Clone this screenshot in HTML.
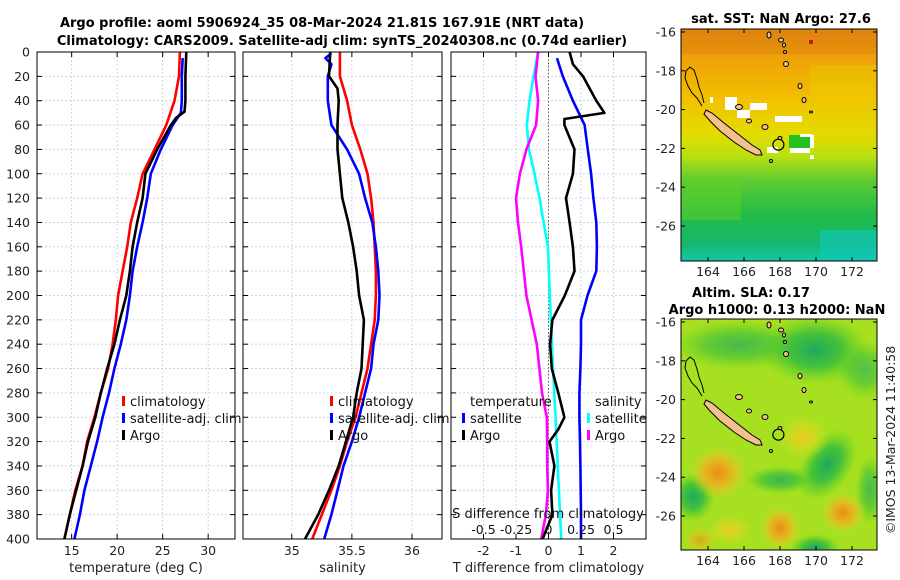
<!DOCTYPE html>
<html><head><meta charset="utf-8"><style>
html,body{margin:0;padding:0;background:#fff;}
svg{display:block;font-family:"DejaVu Sans","Liberation Sans",sans-serif;}
</style></head><body>
<svg id="fig" width="900" height="580" viewBox="0 0 900 580" xmlns="http://www.w3.org/2000/svg">
<defs>
<linearGradient id="sstGrad" x1="0" y1="0" x2="0" y2="1">
<stop offset="0" stop-color="#e2880e"/><stop offset="0.12" stop-color="#eea008"/>
<stop offset="0.3" stop-color="#f2c000"/><stop offset="0.45" stop-color="#e4dc00"/>
<stop offset="0.55" stop-color="#b8e010"/><stop offset="0.65" stop-color="#60cc30"/>
<stop offset="0.8" stop-color="#22bb48"/><stop offset="0.93" stop-color="#16b870"/>
<stop offset="1" stop-color="#10c8a8"/></linearGradient>
<radialGradient id="orangeBlob"><stop offset="0" stop-color="#ec8a18"/><stop offset="0.5" stop-color="#f0b020" stop-opacity="0.8"/><stop offset="1" stop-color="#f0d020" stop-opacity="0"/></radialGradient>
<radialGradient id="yellowBlob"><stop offset="0" stop-color="#f0c820"/><stop offset="1" stop-color="#e8e020" stop-opacity="0"/></radialGradient>
<radialGradient id="greenBlob"><stop offset="0" stop-color="#1ea860"/><stop offset="0.5" stop-color="#30bb40" stop-opacity="0.8"/><stop offset="1" stop-color="#60d020" stop-opacity="0"/></radialGradient>
<clipPath id="clipTop"><rect x="681" y="29" width="196" height="232"/></clipPath>
<clipPath id="clipBot"><rect x="681" y="319" width="196" height="231"/></clipPath>
</defs>
<text x="322" y="27" font-size="13" font-weight="bold" text-anchor="middle">Argo profile: aoml 5906924_35 08-Mar-2024 21.81S 167.91E (NRT data)</text>
<text x="342" y="45" font-size="13" font-weight="bold" text-anchor="middle">Climatology: CARS2009. Satellite-adj clim: synTS_20240308.nc (0.74d earlier)</text>
<g id="panels"></g>
<!-- Top SST map -->
<g clip-path="url(#clipTop)">
<rect x="681" y="29" width="196" height="232" fill="url(#sstGrad)"/>
<rect x="681" y="29" width="196" height="25" fill="#d87a10" opacity="0.35"/>
<rect x="810" y="65" width="67" height="80" fill="#e8d000" opacity="0.35"/>
<rect x="681" y="180" width="60" height="40" fill="#60d028" opacity="0.5"/>
<rect x="820" y="230" width="57" height="31" fill="#10c8c0" opacity="0.6"/>
<rect x="789" y="135" width="21" height="13" fill="#22c020"/>
<rect x="725" y="97" width="12" height="13" fill="#fff"/>
<rect x="737" y="110" width="13" height="8" fill="#fff"/>
<rect x="750" y="103" width="17" height="7" fill="#fff"/>
<rect x="775" y="116" width="27" height="6" fill="#fff"/>
<rect x="810" y="135" width="4" height="13" fill="#fff"/>
<rect x="800" y="134" width="12" height="3" fill="#fff"/>
<rect x="767" y="147" width="11" height="6" fill="#fff"/>
<rect x="790" y="148" width="20" height="5" fill="#fff"/>
<rect x="710" y="97" width="3" height="6" fill="#fff"/>
<rect x="810" y="155" width="4" height="4" fill="#fff"/>
<rect x="809" y="40" width="4" height="4" fill="#c01808"/>
<g id="islandsTop"></g>
</g>
<rect x="681" y="29" width="196" height="232" fill="none" stroke="#000" stroke-width="1"/>
<text x="781" y="23" font-size="13" font-weight="bold" text-anchor="middle">sat. SST: NaN Argo: 27.6</text>
<!-- Bottom SLA map -->
<g clip-path="url(#clipBot)">
<rect x="681" y="319" width="196" height="231" fill="#a6e020"/>
<ellipse cx="740" cy="345" rx="70" ry="25" fill="url(#greenBlob)" opacity="0.7"/>
<ellipse cx="815" cy="350" rx="55" ry="35" fill="url(#greenBlob)"/>
<ellipse cx="865" cy="370" rx="30" ry="30" fill="url(#greenBlob)" opacity="0.6"/>
<ellipse cx="827" cy="465" rx="25" ry="40" fill="url(#greenBlob)" transform="rotate(35 827 465)"/>
<ellipse cx="780" cy="480" rx="35" ry="14" fill="url(#greenBlob)" opacity="0.8"/>
<ellipse cx="693" cy="497" rx="22" ry="25" fill="url(#greenBlob)"/>
<ellipse cx="815" cy="548" rx="25" ry="14" fill="url(#greenBlob)"/>
<ellipse cx="870" cy="490" rx="15" ry="35" fill="url(#greenBlob)" opacity="0.7"/>
<ellipse cx="718" cy="473" rx="28" ry="26" fill="url(#orangeBlob)"/>
<ellipse cx="780" cy="528" rx="20" ry="22" fill="url(#orangeBlob)"/>
<ellipse cx="843" cy="513" rx="22" ry="20" fill="url(#orangeBlob)"/>
<ellipse cx="730" cy="530" rx="22" ry="15" fill="url(#yellowBlob)"/>
<ellipse cx="803" cy="437" rx="25" ry="22" fill="url(#yellowBlob)"/>
<ellipse cx="700" cy="540" rx="18" ry="12" fill="url(#orangeBlob)" opacity="0.6"/>
<g id="islandsBot"></g>
</g>
<rect x="681" y="319" width="196" height="231" fill="none" stroke="#000" stroke-width="1"/>
<text x="751" y="297" font-size="13" font-weight="bold" text-anchor="middle">Altim. SLA: 0.17</text>
<text x="777" y="314" font-size="13" font-weight="bold" text-anchor="middle">Argo h1000: 0.13 h2000: NaN</text>
<text transform="translate(895,440) rotate(-90)" font-size="12.5" text-anchor="middle" fill="#222">©IMOS 13-Mar-2024 11:40:58</text>
<g id="mapaxes"></g>
</svg>
<script>
// ---------- data ----------
const tempClimDepth = [0,20,40,60,80,100,120,140,160,180,200,220,240,260,280,300,320,340,360,380,400];
const tempClim = [26.9,26.8,26.3,25.4,24.1,22.8,22.2,21.5,21.1,20.6,20.1,19.85,19.5,19.0,18.2,17.5,16.7,16.2,15.4,14.8,14.2];
const tempSatDepth = [5,20,40,50,60,80,100,120,140,160,180,200,220,240,260,280,300,320,340,360,380,400];
const tempSat = [27.2,27.1,27.1,27.0,26.1,24.8,23.7,23.3,22.8,22.2,21.7,21.4,21.0,20.4,19.7,19.1,18.4,17.8,17.1,16.4,15.9,15.3];
const tempArgoDepth = [0,20,40,49,54,60,80,100,120,140,160,180,200,220,240,260,280,300,320,340,360,380,400];
const tempArgo = [27.6,27.5,27.5,27.4,26.5,25.9,24.4,23.1,22.8,22.2,21.7,21.4,21.0,20.3,19.7,18.9,18.2,17.6,16.8,16.2,15.5,14.8,14.2];

const salClimDepth = [0,20,40,60,80,100,120,140,160,180,200,220,240,260,280,300,320,340,360,380,400];
const salClim = [35.40,35.40,35.46,35.50,35.57,35.63,35.66,35.68,35.69,35.70,35.70,35.69,35.66,35.63,35.58,35.53,35.46,35.40,35.33,35.25,35.17];
const salSatDepth = [1,5,10,20,40,60,80,100,120,140,160,180,200,220,240,260,280,300,320,340,360,380,400];
const salSat = [35.33,35.28,35.33,35.30,35.30,35.33,35.46,35.56,35.61,35.67,35.70,35.72,35.73,35.72,35.68,35.66,35.61,35.56,35.50,35.43,35.38,35.33,35.27];
const salArgoDepth = [0,20,30,40,60,80,100,120,140,160,180,200,220,240,260,280,300,320,340,360,380,400];
const salArgo = [35.32,35.31,35.38,35.39,35.38,35.38,35.40,35.42,35.47,35.51,35.54,35.56,35.60,35.59,35.58,35.54,35.51,35.45,35.39,35.31,35.22,35.11];

const dTSatDepth = [5,20,40,60,80,100,120,140,160,180,200,220,240,260,280,300,320,340,360,380,400];
const dTSat = [0.26,0.44,0.75,1.11,1.21,1.31,1.38,1.47,1.49,1.47,1.2,1.0,1.0,0.98,0.95,0.95,0.97,0.98,0.99,1.0,1.0];
const dTArgoDepth = [0,10,20,40,50,55,60,80,100,120,140,160,180,200,220,240,260,280,300,310,320,340,360,380,400];
const dTArgo = [0.65,0.75,1.06,1.47,1.72,0.49,0.49,0.8,0.75,0.54,0.65,0.75,0.8,0.5,0.12,0.05,0.1,0.3,0.49,0.3,0.03,0.18,0.08,0.12,-0.18];
const dSSatDepth = [0,20,40,60,80,100,120,140,160,200,250,300,400];
const dSSat = [-0.08,-0.115,-0.146,-0.167,-0.15,-0.108,-0.069,-0.038,-0.005,0.01,0.03,0.054,0.098];
const dSArgoDepth = [0,20,40,60,80,100,120,140,160,180,200,220,240,260,280,300,320,340,360,380,400];
const dSArgo = [-0.08,-0.1,-0.08,-0.095,-0.17,-0.22,-0.25,-0.235,-0.21,-0.19,-0.17,-0.13,-0.09,-0.07,-0.05,-0.013,-0.01,-0.01,-0.005,-0.02,-0.056];

const depthTicks = [0,20,40,60,80,100,120,140,160,180,200,220,240,260,280,300,320,340,360,380,400];
const tempTicks = [15,20,25,30];
const salTicks = [35,35.5,36];
const salTickLabels = ["35","35.5","36"];
const dTTicks = [-2,-1,0,1,2];
const dSTicks = [-0.5,-0.25,0,0.25,0.5];
const dSTickLabels = ["-0.5","-0.25","0","0.25","0.5"];
const lonTicks = [164,166,168,170,172];
const latTicks = [-16,-18,-20,-22,-24,-26];

// ---------- helpers ----------
const NS = "http://www.w3.org/2000/svg";
function mk(tag, attrs, parent){ const e=document.createElementNS(NS,tag); for(const k in attrs) e.setAttribute(k,attrs[k]); parent.appendChild(e); return e; }
const Y0=52, Y1=539, DMAX=400;
function yScale(d){ return Y0 + d/DMAX*(Y1-Y0); }
function lin(d0,d1,r0,r1){ return v => r0 + (v-d0)/(d1-d0)*(r1-r0); }

const panels = document.getElementById('panels');
const P = [
  {x0:37,x1:235,xs:lin(11.19,32.95,37,235),ticks:tempTicks,labels:tempTicks.map(String),name:'temperature-panel',xlabel:'temperature (deg C)'},
  {x0:243,x1:442,xs:lin(34.594,36.25,243,442),ticks:salTicks,labels:salTickLabels,name:'salinity-panel',xlabel:'salinity'},
  {x0:451,x1:646,xs:lin(-3,3,451,646),ticks:dTTicks,labels:dTTicks.map(String),name:'difference-panel',xlabel:'T difference from climatology'}
];

P.forEach(p=>{
  const g = mk('g',{},panels);
  
  
  depthTicks.forEach(d=>{ if(d>0&&d<400){ const l=mk('line',{x1:p.x0,x2:p.x1,y1:yScale(d),y2:yScale(d),stroke:'#c3cbe6','stroke-width':0.8,'stroke-dasharray':'2,2'},g);
      }});
  p.ticks.forEach(t=>{ const x=p.xs(t); const l=mk('line',{x1:x,x2:x,y1:Y0,y2:Y1,stroke:'#c3cbe6','stroke-width':0.8,'stroke-dasharray':'2,2'},g);
      });
});

function series(p, depths, vals, color, name, xs){
  const f = xs || p.xs;
  const pts = depths.map((d,i)=> f(vals[i]).toFixed(1)+','+yScale(d).toFixed(1)).join(' ');
  const pl = mk('polyline',{points:pts,fill:'none',stroke:color,'stroke-width':2.6,'stroke-linejoin':'round'},panels);
  
  
}
const zl = mk('line',{x1:P[2].xs(0),x2:P[2].xs(0),y1:Y0,y2:Y1,stroke:'#6b6b3a','stroke-width':1,'stroke-dasharray':'1.5,2'},panels);



series(P[0], tempClimDepth, tempClim, '#ff0000', 'temp-climatology-line');
series(P[0], tempSatDepth, tempSat, '#0000ff', 'temp-satellite-clim-line');
series(P[0], tempArgoDepth, tempArgo, '#000000', 'temp-argo-line');
series(P[1], salClimDepth, salClim, '#ff0000', 'sal-climatology-line');
series(P[1], salSatDepth, salSat, '#0000ff', 'sal-satellite-clim-line');
series(P[1], salArgoDepth, salArgo, '#000000', 'sal-argo-line');
const sScale = lin(-0.75,0.75,451,646);
series(P[2], dSSatDepth, dSSat, '#00ffff', 'sal-diff-satellite-line', sScale);
series(P[2], dSArgoDepth, dSArgo, '#ff00ff', 'sal-diff-argo-line', sScale);
series(P[2], dTSatDepth, dTSat, '#0000ff', 'temp-diff-satellite-line');
series(P[2], dTArgoDepth, dTArgo, '#000000', 'temp-diff-argo-line');

P.forEach((p,pi)=>{
  const g = mk('g',{},panels);
  
  
  mk('rect',{x:p.x0,y:Y0,width:p.x1-p.x0,height:Y1-Y0,fill:'none',stroke:'#000','stroke-width':1},g);
  depthTicks.forEach(d=>{ const y=yScale(d);
    mk('line',{x1:p.x0,x2:p.x0+5,y1:y,y2:y,stroke:'#000'},g);
    mk('line',{x1:p.x1,x2:p.x1-5,y1:y,y2:y,stroke:'#000'},g);
    if(pi===0){ const t=mk('text',{x:30,y:y+4.5,'font-size':12.5,'text-anchor':'end',fill:'#222'},g); t.textContent=String(d);
        }
  });
  p.ticks.forEach((v,i)=>{ const x=p.xs(v);
    mk('line',{x1:x,x2:x,y1:Y1,y2:Y1-5,stroke:'#000'},g);
    mk('line',{x1:x,x2:x,y1:Y0,y2:Y0+5,stroke:'#000'},g);
    const t=mk('text',{x:x,y:555,'font-size':12.5,'text-anchor':'middle',fill:'#222'},g); t.textContent=p.labels[i];
     
  });
  const xl=mk('text',{x:(p.x0+p.x1)/2,y:572,'font-size':13,'text-anchor':'middle',fill:'#222'},g); xl.textContent=p.xlabel;
   
});
const sT = mk('text',{x:548,y:518,'font-size':13,'text-anchor':'middle',fill:'#111'},panels);
sT.textContent='S difference from climatology';


dSTicks.forEach((v,i)=>{ const t=mk('text',{x:sScale(v),y:534,'font-size':12.5,'text-anchor':'middle',fill:'#111'},panels); t.textContent=dSTickLabels[i];
    });

function legend(x, y, entries, nameBase){
  entries.forEach((e,i)=>{
    const yy = y + i*17;
    if(e.color){ const m=mk('rect',{x:x,y:yy-9,width:3,height:10,fill:e.color},panels);
        }
    const t=mk('text',{x:x+8,y:yy+1,'font-size':13,fill:'#111'},panels); t.textContent=e.label;
     
  });
}
legend(122,405,[{color:'#ff0000',label:'climatology'},{color:'#0000ff',label:'satellite-adj. clim'},{color:'#000',label:'Argo'}],'temp-legend-entry');
legend(330,405,[{color:'#ff0000',label:'climatology'},{color:'#0000ff',label:'satellite-adj. clim'},{color:'#000',label:'Argo'}],'sal-legend-entry');
legend(462,405,[{color:null,label:'temperature'},{color:'#0000ff',label:'satellite'},{color:'#000',label:'Argo'}],'diff-temp-legend-entry');
legend(587,405,[{color:null,label:'salinity'},{color:'#00ffff',label:'satellite'},{color:'#ff00ff',label:'Argo'}],'diff-sal-legend-entry');

function islands(gid){
  const g = document.getElementById(gid);
  const st = {stroke:'#000','stroke-width':1};
  mk('polygon',Object.assign({points:'706,110 712,113 724,123 738,134 752,145 760,150 762,155 756,155 746,150 734,142 720,131 710,121 704,114',fill:'#f5c090'},st),g);
  mk('polyline',Object.assign({points:'702,106 697,98 692,93 688,86 685,78 686,71 690,67 694,70 697,79 699,87 702,95 704,103',fill:'none'},st),g);
  const isl=[[769,35,2,3],[781,40,2.5,2],[784,45,1.5,2],[786,64,2.5,2.5],[800,86,2,2.5],[804,100,2,2.5],[765,127,3,2.5],[749,121,2.5,2],[739,107,3.5,2.5],[780,138,2,1.5],[771,161,1.5,1.5],[785,52,1.5,1.5],[811,112,1.5,1]];
  isl.forEach(a=>mk('ellipse',Object.assign({cx:a[0],cy:a[1],rx:a[2],ry:a[3],fill:'#f5c090'},st),g));
  mk('circle',{cx:778.4,cy:144.7,r:5.5,fill:'none',stroke:'#000','stroke-width':1.2},g);
}
islands('islandsTop'); islands('islandsBot');
document.getElementById('islandsBot').setAttribute('transform','translate(0,290)');
document.getElementById('islandsTop');
document.getElementById('islandsTop');
document.getElementById('islandsBot');
document.getElementById('islandsBot');

const ma = document.getElementById('mapaxes');
[{y0:29,y1:261,off:0},{y0:319,y1:550,off:290}].forEach(m=>{
  lonTicks.forEach(lon=>{ const x=708+(lon-164)*18;
    mk('line',{x1:x,x2:x,y1:m.y1,y2:m.y1-4,stroke:'#000'},ma);
    mk('line',{x1:x,x2:x,y1:m.y0,y2:m.y0+4,stroke:'#000'},ma);
    const t=mk('text',{x:x,y:m.y1+15,'font-size':12.5,'text-anchor':'middle',fill:'#222'},ma); t.textContent=String(lon);
      });
  latTicks.forEach(lat=>{ const y=32+(-16-lat)*19.4+m.off;
    mk('line',{x1:681,x2:685,y1:y,y2:y,stroke:'#000'},ma);
    mk('line',{x1:877,x2:873,y1:y,y2:y,stroke:'#000'},ma);
    const t=mk('text',{x:676,y:y+4.5,'font-size':12.5,'text-anchor':'end',fill:'#222'},ma); t.textContent=String(lat);
      });
});
</script>
</body></html>
